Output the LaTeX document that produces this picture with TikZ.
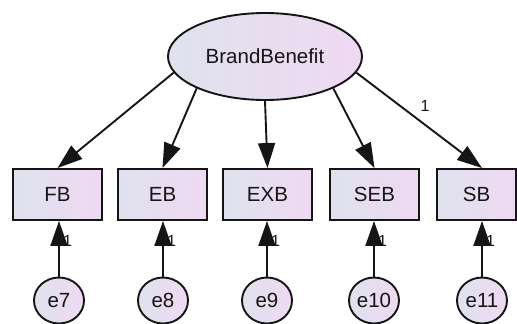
\documentclass[tikz,border=0pt]{standalone}
\usepackage{fontspec}
\setmainfont{Liberation Sans}
\usetikzlibrary{arrows.meta,shapes.geometric}
\definecolor{gl}{HTML}{DFE2EE}
\definecolor{gr}{HTML}{EFD9F2}
\definecolor{ink}{HTML}{151515}
\tikzset{
  sh/.style={draw=ink, line width=1.9pt, left color=gl, right color=gr, text=ink, inner sep=0pt, font=\fontsize{20.5}{20.5}\selectfont},
  latent/.style={sh, ellipse, minimum width=194pt, minimum height=87pt},
  obs/.style={sh, rectangle, minimum width=89pt, minimum height=51pt},
  err/.style={sh, ellipse, minimum width=50pt, minimum height=46pt},
  conn/.style={draw=ink, line width=1.9pt, -{Triangle[length=25pt,width=17pt]}},
  wt/.style={text=ink, font=\fontsize{16}{16}\selectfont, inner sep=0pt}
}
\begin{document}
\begin{tikzpicture}[x=1pt,y=-1pt]
\useasboundingbox (0,0) rectangle (517,324);
\node[latent] (BB) at (265,56.5) {BrandBenefit};
\node[obs] (FB) at (57.5,194.5) {FB};
\node[obs] (EB) at (162.5,194.5) {EB};
\node[obs] (EXB) at (267.5,194.5) {EXB};
\node[obs] (SEB) at (374.5,194.5) {SEB};
\node[obs, minimum width=79pt] (SB) at (476.5,194.5) {SB};
\node[err] (e7) at (59,300.5) {e7};
\node[err] (e8) at (163,300.5) {e8};
\node[err] (e9) at (267,300.5) {e9};
\node[err] (e10) at (374,300.5) {e10};
\node[err] (e11) at (482,300.5) {e11};
\draw[conn] (BB.190) -- (FB.north);
\draw[conn] (BB.205) -- (EB.north);
\draw[conn] (BB.270) -- (EXB.north);
\draw[conn] (BB.335) -- (SEB.north);
\draw[conn] (BB.350) -- (e11 |- SB.north);
\node[wt] (w0) at (425,106) {1};
\foreach \e/\b in {e7/FB,e8/EB,e9/EXB,e10/SEB,e11/SB}{
  \draw[conn] (\e.north) -- (\e |- \b.south);
  \node[wt, anchor=west] at ([xshift=4pt,yshift=-20pt]\e |- \b.south) {1};
}
\end{tikzpicture}
\end{document}
